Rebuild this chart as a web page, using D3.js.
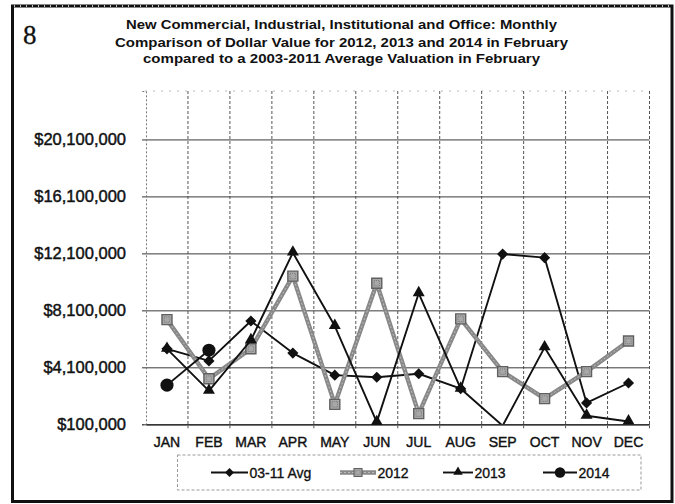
<!DOCTYPE html>
<html>
<head>
<meta charset="utf-8">
<script src="https://cdn.jsdelivr.net/npm/d3@7/dist/d3.min.js"></script>
<style>
  html, body { margin: 0; padding: 0; background: #fff; }
  svg { display: block; }
</style>
</head>
<body>
<svg id="chart" width="675" height="504"></svg>
<script>
// ---- data ----
const months = ["JAN", "FEB", "MAR", "APR", "MAY", "JUN", "JUL", "AUG", "SEP", "OCT", "NOV", "DEC"];
const avg0311 = [5400000, 4550000, 7350000, 5100000, 3550000, 3400000, 3650000, 2600000, 12050000, 11800000, 1600000, 3000000];
const val2012 = [7450000, 3300000, 5400000, 10500000, 1500000, 10000000, 850000, 7500000, 3800000, 1900000, 3800000, 5950000];
const val2013 = [5400000, 2450000, 6000000, 12150000, 7000000, 250000, 9300000, 2600000, 0, 5500000, 700000, 300000];
const val2014 = [2850000, 5300000];
const seriesNames = ["03-11 Avg", "2012", "2013", "2014"];
const yTickValues = [100000, 4100000, 8100000, 12100000, 16100000, 20100000];
const yAxisRange = [100000, 23500000];
const chartNumber = "8";
const titleLines = [
  "New Commercial, Industrial, Institutional and Office: Monthly",
  "Comparison of Dollar Value for 2012, 2013 and 2014 in February",
  "compared to a 2003-2011 Average Valuation in February"
];

// ---- layout ----
const svg = d3.select("#chart");
const plot = { left: 146, right: 649.5, top: 91, bottom: 424.3 };
const sans = "'Liberation Sans', Arial, Helvetica, sans-serif";
const ink = "#111";

const x = d3.scaleBand().domain(months).range([plot.left, plot.right]).paddingInner(0).paddingOuter(0);
const cx = m => x(m) + x.bandwidth() / 2;
const y = d3.scaleLinear().domain(yAxisRange).range([plot.bottom, plot.top]);

// outer frame
svg.append("rect")
  .attr("x", 12.5).attr("y", 6).attr("width", 659.5).attr("height", 495.5)
  .attr("fill", "none").attr("stroke", ink).attr("stroke-width", 3);
svg.append("line")
  .attr("x1", 14).attr("x2", 670).attr("y1", 6).attr("y2", 6)
  .attr("stroke", "#fff").attr("stroke-width", 1.6).attr("stroke-dasharray", "1,5");

// chart number
svg.append("text")
  .attr("x", 23).attr("y", 44)
  .attr("font-family", "'Liberation Serif', 'Times New Roman', serif")
  .attr("font-size", 27).attr("fill", ink)
  .attr("stroke", ink).attr("stroke-width", 0.3)
  .text(chartNumber);

// title
const titleWidths = [431, 453, 397];
const titleBase = [29.3, 46.5, 63.3];
titleLines.forEach((t, i) => {
  svg.append("text")
    .attr("x", 341.5).attr("y", titleBase[i])
    .attr("text-anchor", "middle")
    .attr("font-family", sans).attr("font-weight", "bold").attr("font-size", 13)
    .attr("textLength", titleWidths[i]).attr("lengthAdjust", "spacingAndGlyphs")
    .attr("fill", ink)
    .text(t);
});

// plot top border (faint dotted)
svg.append("line")
  .attr("x1", plot.left - 1).attr("x2", plot.right).attr("y1", plot.top).attr("y2", plot.top)
  .attr("stroke", "#bbb").attr("stroke-width", 1).attr("stroke-dasharray", "2,6");

// vertical gridlines at category boundaries
const bounds = months.map(m => x(m)).concat([plot.right]);
svg.append("g").selectAll("line").data(bounds.slice(1)).join("line")
  .attr("x1", d => d).attr("x2", d => d)
  .attr("y1", plot.top).attr("y2", plot.bottom + 4)
  .attr("stroke", "#555").attr("stroke-width", 1).attr("stroke-dasharray", "3,2");

// horizontal gridlines
svg.append("g")
  .attr("transform", `translate(${plot.left},0)`)
  .call(d3.axisLeft(y).tickValues(yTickValues).tickSize(-(plot.right - plot.left)).tickFormat(""))
  .call(g => g.select(".domain").remove())
  .call(g => g.selectAll(".tick line").attr("stroke", "#3a3a3a").attr("stroke-width", 1));

// y axis with labels
const yAxisG = svg.append("g")
  .attr("transform", `translate(${plot.left},0)`)
  .call(d3.axisLeft(y).tickValues(yTickValues).tickSize(4).tickPadding(16).tickFormat(d3.format("$,")));
yAxisG.select(".domain").attr("stroke", "#777").attr("stroke-dasharray", "2,2");
yAxisG.selectAll(".tick line").attr("stroke", "#333");
yAxisG.selectAll(".tick text")
  .attr("font-family", sans).attr("font-size", 16.5).attr("fill", ink)
  .attr("stroke", ink).attr("stroke-width", 0.45);

// x axis
const xAxisG = svg.append("g")
  .attr("transform", `translate(0,${plot.bottom})`)
  .call(d3.axisBottom(x).tickSize(0).tickPadding(0));
xAxisG.select(".domain").attr("stroke", "#222").attr("stroke-width", 1.3);
xAxisG.selectAll(".tick text")
  .attr("y", 12.5)
  .attr("font-family", sans).attr("font-size", 14).attr("fill", ink)
  .attr("stroke", ink).attr("stroke-width", 0.4);

// clip for series lines
svg.append("defs").append("clipPath").attr("id", "plotClip")
  .append("rect").attr("x", plot.left - 10).attr("y", plot.top)
  .attr("width", plot.right - plot.left + 20).attr("height", plot.bottom - plot.top);

const lineGen = d3.line().x(d => cx(d.m)).y(d => y(d.v));
const toPoints = vals => vals.map((v, i) => ({ m: months[i], v }));
const inRange = d => d.v >= yAxisRange[0] && d.v <= yAxisRange[1];

const diamondPath = d3.symbol().type(d3.symbolSquare).size(62)();
const squarePath = d3.symbol().type(d3.symbolSquare).size(100)();
const trianglePath = d3.symbol().type(d3.symbolTriangle).size(62)();
const circlePath = d3.symbol().type(d3.symbolCircle).size(135)();

const series = [
  { name: seriesNames[0], values: avg0311, kind: "diamond" },
  { name: seriesNames[1], values: val2012, kind: "square" },
  { name: seriesNames[2], values: val2013, kind: "triangle" },
  { name: seriesNames[3], values: val2014, kind: "circle" }
];

function drawMarker(g, kind) {
  if (kind === "diamond") {
    g.append("path").attr("d", diamondPath).attr("transform", "rotate(45)").attr("fill", ink);
  } else if (kind === "square") {
    g.append("path").attr("d", squarePath).attr("fill", "#a8a8a8").attr("stroke", "#606060").attr("stroke-width", 1.4);
    g.append("path").attr("d", d3.symbol().type(d3.symbolSquare).size(30)())
      .attr("fill", "none").attr("stroke", "#7a7a7a").attr("stroke-width", 1).attr("stroke-dasharray", "1,1");
  } else if (kind === "triangle") {
    g.append("path").attr("d", trianglePath).attr("transform", "translate(0,-0.5)").attr("fill", ink);
  } else {
    g.append("path").attr("d", circlePath).attr("fill", ink);
  }
}

function drawLine(g, pts, kind) {
  if (kind === "square") {
    g.append("path").attr("d", lineGen(pts)).attr("fill", "none")
      .attr("stroke", "#888").attr("stroke-width", 4.4).attr("stroke-linejoin", "round");
    g.append("path").attr("d", lineGen(pts)).attr("fill", "none")
      .attr("stroke", "#bdbdbd").attr("stroke-width", 1).attr("stroke-dasharray", "2,2");
  } else {
    g.append("path").attr("d", lineGen(pts)).attr("fill", "none")
      .attr("stroke", ink).attr("stroke-width", 1.9).attr("stroke-linejoin", "round");
  }
}

series.forEach(s => {
  const pts = toPoints(s.values);
  const g = svg.append("g");
  drawLine(g.append("g").attr("clip-path", "url(#plotClip)"), pts, s.kind);
  pts.filter(inRange).forEach(p => {
    drawMarker(g.append("g").attr("transform", `translate(${cx(p.m)},${y(p.v)})`), s.kind);
  });
});

// legend
svg.append("rect")
  .attr("x", 177.5).attr("y", 455).attr("width", 463.5).attr("height", 35)
  .attr("fill", "none").attr("stroke", "#999").attr("stroke-width", 1).attr("stroke-dasharray", "3,2");
const legendPos = [
  { x1: 211, x2: 248 },
  { x1: 340, x2: 376 },
  { x1: 443, x2: 473 },
  { x1: 543, x2: 577 }
];
const legendY = 472.5;
series.forEach((s, i) => {
  const p = legendPos[i];
  const g = svg.append("g");
  if (s.kind === "square") {
    g.append("line").attr("x1", p.x1).attr("x2", p.x2).attr("y1", legendY).attr("y2", legendY)
      .attr("stroke", "#888").attr("stroke-width", 4.4);
    g.append("line").attr("x1", p.x1).attr("x2", p.x2).attr("y1", legendY).attr("y2", legendY)
      .attr("stroke", "#bdbdbd").attr("stroke-width", 1).attr("stroke-dasharray", "2,2");
  } else {
    g.append("line").attr("x1", p.x1).attr("x2", p.x2).attr("y1", legendY).attr("y2", legendY)
      .attr("stroke", ink).attr("stroke-width", 1.9);
  }
  const mg = g.append("g").attr("transform", `translate(${(p.x1 + p.x2) / 2},${legendY}) scale(0.8)`);
  drawMarker(mg, s.kind);
  g.append("text").attr("x", p.x2 + 1.5).attr("y", legendY + 5)
    .attr("font-family", sans).attr("font-size", 14).attr("fill", ink)
    .attr("stroke", ink).attr("stroke-width", 0.35)
    .text(s.name);
});
</script>
</body>
</html>
